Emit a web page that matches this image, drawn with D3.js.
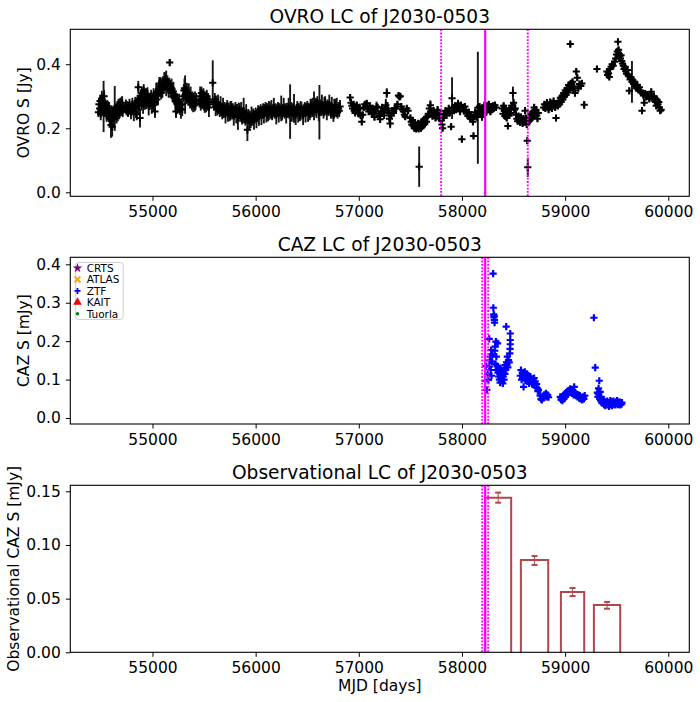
<!DOCTYPE html>
<html>
<head>
<meta charset="utf-8">
<script src="https://cdn.jsdelivr.net/npm/d3@7"></script>
<style>
body { margin: 0; background: #fff; }
svg text { font-family: "DejaVu Sans", sans-serif; fill: #000; }
</style>
</head>
<body>
<div id="chart"></div>
<script>

// OVRO 15 GHz light curve: [MJD, S (Jy), error]
var ovroEarly = [
[54476,0.250,0.015],[54481,0.275,0.02],[54487,0.262,0.015],[54492,0.285,0.02],[54498,0.245,0.02],[54503,0.270,0.02],[54509,0.292,0.025],[54514,0.258,0.02],[54520,0.280,0.03],[54526,0.268,0.08],[54531,0.300,0.02],[54537,0.255,0.02],[54543,0.275,0.015],[54549,0.262,0.02],[54555,0.240,0.02],
[54561,0.268,0.02],[54568,0.255,0.03],[54574,0.245,0.02],[54580,0.262,0.02],[54586,0.235,0.03],[54592,0.228,0.02],[54598,0.210,0.04],[54603,0.222,0.05],[54609,0.205,0.03],[54615,0.238,0.02],[54621,0.250,0.02],[54628,0.230,0.03],[54634,0.262,0.07],[54640,0.245,0.02],[54646,0.258,0.02],[54652,0.240,0.025],[54658,0.265,0.02],[54664,0.252,0.03],[54670,0.272,0.02],[54676,0.248,0.02],[54682,0.262,0.03],[54688,0.275,0.02],[54694,0.258,0.02],[54700,0.268,0.03],[54706,0.280,0.02],[54712,0.255,0.02],
[54735,0.262,0.015],[54742,0.270,0.02],[54749,0.255,0.015],[54756,0.265,0.02],[54763,0.250,0.015],[54770,0.262,0.02],[54777,0.272,0.02],[54784,0.258,0.015],[54791,0.248,0.02],[54798,0.265,0.02],[54805,0.275,0.02],[54812,0.260,0.02],[54819,0.252,0.03],[54826,0.268,0.02],[54833,0.278,0.02],[54840,0.262,0.03],[54847,0.245,0.02],
[54855,0.285,0.02],[54862,0.328,0.02],[54868,0.270,0.03],[54874,0.292,0.02],[54879,0.232,0.03],[54885,0.300,0.02],[54891,0.285,0.03],[54897,0.310,0.02],[54903,0.295,0.02],[54909,0.275,0.03],[54915,0.318,0.02],[54921,0.300,0.02],[54927,0.288,0.03],[54933,0.305,0.02],[54939,0.280,0.02],[54945,0.295,0.03],[54951,0.308,0.02],[54957,0.285,0.02],[54963,0.270,0.03],[54969,0.290,0.02],[54975,0.278,0.02],
[54981,0.285,0.02],[54987,0.300,0.02],[54993,0.275,0.03],[54999,0.290,0.02],[55005,0.272,0.02],[55011,0.295,0.03],[55017,0.280,0.02],[55024,0.252,0.02],[55030,0.298,0.02],[55036,0.310,0.03],[55042,0.290,0.02],[55048,0.315,0.02],[55054,0.302,0.03],[55060,0.322,0.02],[55066,0.340,0.02],[55072,0.318,0.02],[55078,0.330,0.03],[55084,0.310,0.02],[55090,0.335,0.02],[55096,0.325,0.03],[55102,0.342,0.02],[55108,0.330,0.02],[55114,0.345,0.03],[55121,0.350,0.025],[55127,0.335,0.02],[55133,0.340,0.04],[55139,0.328,0.02],[55145,0.345,0.02],[55151,0.332,0.02],[55157,0.325,0.03],[55163,0.338,0.02],[55167,0.405,0.01],
[55173,0.330,0.02],[55179,0.318,0.02],[55185,0.325,0.03],[55191,0.310,0.02],[55197,0.300,0.02],[55203,0.315,0.03],[55209,0.295,0.02],[55215,0.305,0.02],[55221,0.285,0.03],[55228,0.252,0.02],[55234,0.290,0.02],[55240,0.275,0.03],[55246,0.285,0.02],[55252,0.268,0.02],[55258,0.278,0.03],[55264,0.262,0.02],[55270,0.272,0.02],[55276,0.260,0.03],[55282,0.275,0.02],[55288,0.258,0.02],
[55298,0.300,0.02],[55304,0.318,0.02],[55310,0.325,0.03],[55316,0.305,0.06],[55322,0.320,0.02],[55328,0.295,0.02],[55334,0.312,0.03],[55340,0.300,0.02],[55346,0.290,0.02],[55352,0.310,0.03],[55358,0.295,0.02],[55364,0.282,0.02],[55370,0.300,0.03],[55376,0.288,0.02],[55382,0.275,0.02],[55388,0.295,0.02],[55394,0.280,0.03],[55400,0.290,0.02],[55406,0.272,0.02],[55412,0.285,0.03],[55418,0.278,0.02],[55424,0.290,0.02],
[55455,0.285,0.02],[55462,0.300,0.03],[55468,0.275,0.02],[55475,0.310,0.02],[55481,0.290,0.03],[55488,0.280,0.02],[55494,0.305,0.02],[55500,0.285,0.03],[55507,0.268,0.02],[55513,0.295,0.02],[55520,0.280,0.03],[55526,0.300,0.02],[55533,0.275,0.02],[55540,0.290,0.02],[55547,0.265,0.03],[55553,0.282,0.02]
];

var ovroMid = [
[55584,0.342,0.07],
[55596,0.275,0.02],[55604,0.290,0.02],[55612,0.268,0.03],[55620,0.282,0.02],[55628,0.260,0.02],[55636,0.275,0.03],[55644,0.265,0.02],[55652,0.255,0.02],[55660,0.270,0.03],[55668,0.258,0.02],[55676,0.248,0.02],[55684,0.265,0.03],[55692,0.252,0.02],[55700,0.262,0.02],[55708,0.245,0.03],[55716,0.258,0.02],[55724,0.268,0.02],[55732,0.250,0.03],[55740,0.260,0.02],[55748,0.242,0.02],[55756,0.255,0.03],[55764,0.265,0.02],[55772,0.248,0.02],[55780,0.258,0.02],[55788,0.238,0.03],[55796,0.252,0.02],[55804,0.262,0.02],[55812,0.245,0.03],[55820,0.255,0.02],[55828,0.235,0.04],[55836,0.250,0.03],[55844,0.258,0.02],[55852,0.240,0.02],[55860,0.252,0.03],[55868,0.232,0.02],[55876,0.245,0.02],[55884,0.255,0.04],[55892,0.238,0.02],[55900,0.228,0.02],[55908,0.245,0.03],[55914,0.232,0.02],[55920,0.195,0.035],[55928,0.240,0.02],[55936,0.225,0.03],[55944,0.235,0.02],[55952,0.220,0.02],[55960,0.238,0.03],[55968,0.228,0.02],[55976,0.242,0.02],[55984,0.225,0.03],[55992,0.235,0.02],
[56000,0.245,0.02],[56008,0.230,0.03],[56016,0.240,0.02],[56024,0.252,0.02],[56032,0.238,0.03],[56040,0.248,0.02],[56048,0.255,0.02],[56056,0.240,0.03],[56064,0.250,0.02],[56072,0.258,0.02],[56080,0.245,0.03],[56088,0.255,0.02],[56096,0.262,0.02],[56104,0.248,0.03],[56112,0.258,0.02],[56120,0.242,0.02],[56128,0.255,0.03],[56136,0.262,0.02],[56144,0.250,0.02],[56152,0.258,0.03],[56160,0.245,0.02],[56168,0.255,0.02],[56176,0.265,0.03],[56184,0.250,0.02],[56192,0.258,0.02],[56200,0.242,0.03],[56208,0.255,0.02],[56216,0.262,0.02],[56224,0.248,0.03],[56232,0.258,0.02],[56240,0.250,0.02],[56248,0.262,0.04],[56256,0.245,0.02],[56264,0.255,0.02],[56272,0.265,0.03],[56280,0.250,0.02],[56288,0.258,0.02],[56296,0.245,0.03],[56304,0.260,0.02],[56312,0.252,0.02],[56320,0.265,0.03],[56328,0.248,0.02],[56334,0.252,0.085],[56342,0.262,0.02],[56350,0.250,0.03],
[56358,0.258,0.02],[56366,0.245,0.02],[56372,0.262,0.045],[56380,0.250,0.02],[56388,0.240,0.03],[56396,0.255,0.02],[56404,0.265,0.02],[56412,0.248,0.03],[56420,0.258,0.02],[56428,0.242,0.02],[56436,0.255,0.03],[56444,0.262,0.02],[56452,0.250,0.02],[56460,0.240,0.03],[56468,0.255,0.02],[56476,0.262,0.02],[56484,0.248,0.03],[56492,0.258,0.02],[56500,0.265,0.02],[56508,0.250,0.03],[56516,0.258,0.02],[56524,0.245,0.02],[56532,0.262,0.03],[56540,0.272,0.02],[56548,0.255,0.02],[56556,0.265,0.03],[56566,0.270,0.045],[56574,0.258,0.02],[56582,0.275,0.02],[56590,0.262,0.03],[56598,0.280,0.02],[56606,0.268,0.02],[56612,0.252,0.03],[56618,0.250,0.085],[56626,0.270,0.02],[56634,0.258,0.02],[56642,0.275,0.03],[56650,0.262,0.02],[56658,0.250,0.02],[56666,0.268,0.03],[56674,0.280,0.02],[56682,0.262,0.02],[56690,0.255,0.03],[56698,0.270,0.02],[56706,0.258,0.02],[56714,0.275,0.03],[56722,0.262,0.02],[56730,0.250,0.02],[56738,0.268,0.03],[56746,0.255,0.02],[56754,0.240,0.02],[56762,0.262,0.03],[56770,0.272,0.02],[56778,0.258,0.02],[56786,0.265,0.03],[56794,0.250,0.02],[56802,0.262,0.02],[56810,0.255,0.02],[56818,0.268,0.02]
];

var ovroLate = [
[56916,0.296,0.01],[56925,0.280,0.01],[56933,0.270,0.01],[56940,0.262,0.01],[56948,0.275,0.01],[56956,0.255,0.01],[56964,0.248,0.01],[56972,0.265,0.01],[56980,0.272,0.01],[56990,0.258,0.01],[56998,0.245,0.01],[57008,0.262,0.015],[57018,0.240,0.01],[57029,0.220,0.01],[57038,0.242,0.01],[57048,0.265,0.01],[57058,0.275,0.01],[57068,0.268,0.01],[57077,0.278,0.01],[57086,0.262,0.01],[57096,0.252,0.01],[57106,0.270,0.01],[57116,0.258,0.01],[57126,0.245,0.01],[57134,0.262,0.01],[57142,0.247,0.01],[57152,0.235,0.01],[57162,0.255,0.01],[57172,0.268,0.015],[57181,0.265,0.01],[57192,0.245,0.01],[57200,0.238,0.01],[57207,0.228,0.01],[57216,0.252,0.01],[57226,0.265,0.01],[57236,0.250,0.015],[57245,0.240,0.01],[57252,0.258,0.01],[57262,0.272,0.02],[57271,0.310,0.015],[57280,0.262,0.02],[57290,0.248,0.01],[57297,0.230,0.01],[57304,0.215,0.015],[57314,0.240,0.01],[57324,0.255,0.01],[57336,0.248,0.01],[57348,0.262,0.01],[57362,0.262,0.01],[57374,0.275,0.01],[57385,0.302,0.01],[57394,0.298,0.01],[57402,0.300,0.01],[57412,0.268,0.01],[57424,0.258,0.01],[57433,0.252,0.01],[57442,0.242,0.01],[57450,0.236,0.01],[57465,0.262,0.01],[57478,0.255,0.01],
[57500,0.232,0.01],[57508,0.220,0.01],[57514,0.212,0.01],[57520,0.225,0.01],[57526,0.208,0.01],[57532,0.215,0.01],[57538,0.200,0.01],[57544,0.218,0.01],[57550,0.205,0.01],[57556,0.198,0.01],[57562,0.210,0.01],[57568,0.202,0.01],[57574,0.215,0.01],[57580,0.198,0.01],[57585,0.080,0.063],[57590,0.205,0.01],[57596,0.212,0.01],[57602,0.200,0.01],[57608,0.218,0.01],[57614,0.205,0.01],[57620,0.222,0.01],[57626,0.210,0.01],[57632,0.228,0.01],[57640,0.215,0.01],[57648,0.232,0.01],[57656,0.220,0.01],[57664,0.235,0.01],
[57674,0.245,0.01],[57684,0.262,0.01],[57694,0.272,0.015],[57704,0.250,0.01],[57714,0.238,0.01],[57724,0.255,0.01],[57734,0.242,0.01],[57744,0.232,0.01],[57754,0.248,0.01],[57764,0.258,0.01],[57774,0.240,0.01],[57784,0.230,0.01],[57792,0.245,0.01],[57800,0.225,0.01],[57806,0.212,0.01],[57812,0.200,0.01],[57820,0.232,0.01],[57830,0.245,0.01],[57840,0.255,0.01],[57850,0.240,0.01],[57860,0.252,0.01],[57872,0.262,0.01],[57882,0.248,0.01],[57895,0.205,0.01],[57904,0.294,0.065],[57912,0.265,0.01],
[57922,0.255,0.01],[57932,0.270,0.01],[57942,0.258,0.01],[57952,0.268,0.01],[57962,0.278,0.01],[57972,0.262,0.01],[57982,0.252,0.01],[57990,0.272,0.01],[57999,0.166,0.01],[58008,0.265,0.01],[58018,0.255,0.01],[58028,0.268,0.01],[58038,0.258,0.01],[58048,0.245,0.01],[58058,0.238,0.01],[58068,0.250,0.01],[58078,0.232,0.01],[58088,0.242,0.01],[58098,0.228,0.01],[58106,0.220,0.01],[58112,0.176,0.01],[58120,0.238,0.01],[58128,0.250,0.01],[58136,0.242,0.01],[58144,0.235,0.01],[58154,0.264,0.175],[58162,0.255,0.01],[58170,0.268,0.01],[58178,0.245,0.01],[58186,0.258,0.01],[58194,0.235,0.01],[58202,0.262,0.01],[58210,0.250,0.01],[58218,0.272,0.01],
[58228,0.262,0.01],[58236,0.250,0.01],[58244,0.270,0.01],[58252,0.258,0.01],[58260,0.275,0.01],[58268,0.262,0.01],[58276,0.252,0.01],[58284,0.268,0.01],[58292,0.258,0.01],[58300,0.270,0.01],[58310,0.262,0.01],[58320,0.272,0.01],[58330,0.265,0.01]
];

var ovroRecent = [
[58392,0.262,0.01],[58398,0.245,0.01],[58404,0.270,0.01],[58410,0.255,0.01],[58416,0.238,0.01],[58422,0.262,0.01],[58428,0.250,0.01],[58434,0.232,0.01],[58440,0.248,0.01],[58445,0.207,0.01],[58452,0.255,0.01],[58458,0.240,0.01],[58466,0.262,0.01],[58474,0.248,0.01],[58482,0.270,0.01],[58494,0.310,0.02],[58500,0.280,0.01],[58508,0.258,0.01],[58516,0.262,0.015],[58524,0.242,0.01],[58532,0.230,0.01],[58540,0.222,0.01],[58548,0.238,0.01],[58556,0.225,0.01],[58564,0.218,0.01],[58572,0.235,0.01],[58580,0.228,0.01],[58588,0.215,0.01],[58596,0.230,0.01],[58604,0.220,0.01],[58612,0.255,0.01],[58620,0.232,0.01],[58628,0.212,0.01],[58633,0.161,0.01],[58638,0.078,0.03],[58645,0.220,0.01],[58652,0.235,0.01],[58660,0.225,0.01],[58668,0.245,0.01],[58676,0.232,0.01],[58684,0.250,0.01],[58692,0.238,0.01],[58700,0.265,0.01],[58708,0.245,0.01],[58716,0.258,0.01],[58724,0.240,0.01],[58732,0.230,0.01],[58740,0.248,0.01],
[58792,0.265,0.01],[58800,0.275,0.01],[58808,0.262,0.01],[58816,0.270,0.01],[58824,0.280,0.01],[58832,0.268,0.01],[58840,0.258,0.01],[58848,0.272,0.01],[58856,0.282,0.01],[58864,0.268,0.01],[58872,0.262,0.01],[58880,0.275,0.01],[58888,0.285,0.01],[58896,0.270,0.01],[58904,0.265,0.01],[58912,0.232,0.01],[58920,0.278,0.01],
[58930,0.270,0.01],[58938,0.285,0.01],[58946,0.275,0.01],[58954,0.295,0.01],[58962,0.282,0.01],[58970,0.300,0.01],[58978,0.290,0.01],[58986,0.310,0.01],[58994,0.298,0.01],[59002,0.318,0.01],[59010,0.305,0.01],[59018,0.325,0.01],[59026,0.312,0.01],[59034,0.335,0.01],[59042,0.322,0.01],[59050,0.463,0.01],[59056,0.340,0.01],[59064,0.328,0.01],[59072,0.345,0.01],[59080,0.318,0.01],[59088,0.330,0.01],[59096,0.310,0.01],[59108,0.377,0.01],[59118,0.358,0.01],[59128,0.325,0.01],[59140,0.338,0.01],[59152,0.332,0.01],[59162,0.340,0.01],[59185,0.273,0.012],
[59308,0.385,0.01],[59405,0.377,0.01],[59412,0.366,0.01],[59420,0.372,0.01],[59428,0.360,0.01],[59436,0.385,0.01],[59446,0.392,0.01],[59456,0.400,0.01],[59466,0.395,0.01],[59479,0.408,0.01],[59490,0.418,0.01],[59498,0.430,0.01],[59506,0.440,0.01],[59512,0.470,0.01],[59518,0.445,0.01],[59524,0.432,0.01],[59530,0.425,0.01],[59536,0.418,0.01],[59542,0.428,0.01],[59548,0.410,0.01],[59556,0.402,0.01],[59564,0.395,0.01],[59572,0.385,0.01],[59580,0.392,0.01],[59588,0.378,0.01],[59596,0.370,0.01],[59604,0.382,0.01],[59612,0.365,0.01],[59622,0.317,0.01],[59630,0.352,0.01],[59638,0.360,0.01],[59648,0.345,0.065],[59656,0.350,0.01],[59664,0.338,0.01],[59672,0.345,0.01],[59680,0.332,0.01],[59690,0.325,0.01],[59700,0.335,0.01],[59710,0.320,0.01],[59720,0.328,0.01],[59730,0.315,0.01],[59745,0.255,0.01],[59752,0.310,0.01],[59760,0.302,0.01],[59767,0.280,0.01],[59776,0.308,0.01],[59786,0.298,0.01],[59796,0.305,0.01],[59806,0.300,0.01],[59816,0.292,0.01],[59826,0.305,0.01],[59835,0.314,0.01],[59844,0.298,0.01],[59852,0.290,0.01],[59862,0.300,0.01],[59870,0.285,0.01],[59878,0.292,0.01],[59884,0.270,0.01],[59892,0.288,0.01],[59900,0.275,0.01],[59908,0.282,0.01],[59914,0.265,0.01],[59922,0.255,0.01],[59931,0.258,0.01]
];

// ZTF points of the CAZ light curve: [MJD, S (mJy)]
var ztf = [
[58225,0.097],[58233,0.135],[58241,0.073],[58249,0.115],[58257,0.099],[58264,0.134],[58264,0.206],[58270,0.150],[58273,0.160],[58279,0.125],[58283,0.177],[58286,0.110],[58290,0.147],[58295,0.165],[58302,0.376],[58304,0.287],[58308,0.270],[58310,0.262],[58312,0.266],[58314,0.255],[58316,0.248],[58318,0.175],[58322,0.186],[58326,0.140],[58329,0.199],[58333,0.160],[58337,0.125],[58341,0.135],[58345,0.194],[58349,0.118],[58352,0.128],[58356,0.108],[58360,0.122],[58363,0.100],[58367,0.115],[58370,0.092],[58374,0.130],[58377,0.105],[58381,0.118],[58385,0.098],[58388,0.112],[58392,0.125],[58396,0.090],[58400,0.108],[58404,0.120],[58408,0.100],[58412,0.130],[58416,0.115],[58420,0.138],[58424,0.125],[58429,0.238],[58432,0.145],[58435,0.138],[58440,0.160],[58445,0.132],[58451,0.151],[58458,0.145],[58464,0.168],[58468,0.220],[58468,0.203],[58468,0.192],[58466,0.180],
[58565,0.110],[58572,0.125],[58578,0.100],[58584,0.118],[58590,0.105],[58597,0.081],[58603,0.112],[58609,0.120],[58615,0.098],[58621,0.108],[58627,0.115],[58633,0.095],[58639,0.104],[58645,0.110],[58651,0.090],[58657,0.100],[58663,0.108],[58669,0.095],[58675,0.102],[58681,0.088],[58687,0.098],[58693,0.092],[58699,0.104],[58705,0.085],[58711,0.095],[58717,0.080],[58723,0.088],[58730,0.078],[58736,0.070],[58742,0.073],[58758,0.058],[58766,0.050],[58774,0.047],[58782,0.055],[58790,0.052],[58798,0.060],[58806,0.058],[58814,0.064],[58822,0.055],[58830,0.060],[58839,0.054],
[58953,0.055],[58960,0.048],[58967,0.052],[58974,0.045],[58981,0.058],[58988,0.050],[58995,0.062],[59002,0.055],[59009,0.066],[59016,0.060],[59023,0.070],[59030,0.064],[59037,0.072],[59044,0.068],[59050,0.076],[59058,0.070],[59066,0.064],[59074,0.072],[59082,0.060],[59088,0.081],[59096,0.066],[59104,0.058],[59112,0.062],[59120,0.055],[59128,0.060],[59136,0.052],[59142,0.058],[59150,0.050],[59158,0.054],[59166,0.047],[59174,0.055],[59182,0.050],[59190,0.058],
[59279,0.261],[59292,0.131],[59324,0.077],[59331,0.097],[59312,0.066],[59318,0.055],[59322,0.062],[59336,0.050],[59340,0.068],[59345,0.045],[59350,0.055],[59355,0.040],[59360,0.048],[59366,0.038],[59372,0.045],[59378,0.035],[59384,0.042],[59390,0.032],[59396,0.040],[59402,0.036],[59408,0.044],[59414,0.034],[59420,0.040],[59426,0.030],[59432,0.038],[59438,0.045],[59444,0.035],[59450,0.042],[59456,0.032],[59462,0.038],[59468,0.044],[59474,0.036],[59480,0.040],[59486,0.034],[59492,0.042],[59498,0.038],[59504,0.045],[59510,0.035],[59516,0.040],[59522,0.036],[59528,0.042],[59534,0.034],[59540,0.038],[59546,0.036],[59551,0.040]
];

// observational (binned) CAZ light curve
var binStart = [58225, 58571, 58959, 59279];
var binEnd   = [58477, 58836, 59185, 59534];
var binFlux  = [0.1441, 0.0860, 0.0562, 0.0441];
var binLow   = [0.1394, 0.0814, 0.0524, 0.0406];
var binHigh  = [0.1488, 0.0897, 0.0599, 0.0469];

// flare epoch and the windows drawn around it
var flareMjd = 58225;
var ovroWindow = [57798, 58638];
var cazWindow = [58196, 58254];

var legendNames  = ["CRTS", "ATLAS", "ZTF", "KAIT", "Tuorla"];
var legendColors = ["purple", "orange", "blue", "red", "green"];

var xTicks = [55000, 56000, 57000, 58000, 59000, 60000];
var ovroTicks = [0.0, 0.2, 0.4];
var cazTicks = [0.0, 0.1, 0.2, 0.3, 0.4];
var obsTicks = [0.00, 0.05, 0.10, 0.15];

var ovro = ovroEarly.concat(ovroMid, ovroLate, ovroRecent);

var width = 700, height = 702;
var left = 70.3, right = 689.3;
var fontSize = 15.5;
var magenta = "#ff00ff";
var barColor = "#b0474a";

var svg = d3.select("#chart").append("svg")
    .attr("width", width)
    .attr("height", height);

// x range as matplotlib would pad it (5% each side)
var ext = d3.extent(ovro, function(d) { return d[0]; });
var pad = (ext[1] - ext[0]) * 0.05;
var x = d3.scaleLinear().domain([ext[0] - pad, ext[1] + pad]).range([left, right]);

function plusPath(r) {
    return "M" + (-r) + ",0H" + r + "M0," + (-r) + "V" + r;
}
function timesPath(r) {
    return "M" + (-r) + "," + (-r) + "L" + r + "," + r + "M" + (-r) + "," + r + "L" + r + "," + (-r);
}

function makePanel(top, bottom, yDomain, yTicks, yFormat, title, ylabel, ylabelX) {
    var y = d3.scaleLinear().domain(yDomain).range([bottom, top]);
    var g = svg.append("g");

    g.append("g")
        .attr("transform", "translate(0," + bottom + ")")
        .call(d3.axisBottom(x).tickValues(xTicks).tickFormat(d3.format("d")).tickSize(4.5).tickPadding(5))
        .call(function(a) {
            a.select(".domain").remove();
            a.selectAll("line").attr("stroke", "#000").attr("stroke-width", 1);
            a.selectAll("text").style("font-size", fontSize + "px").attr("font-family", "DejaVu Sans");
        });

    g.append("g")
        .attr("transform", "translate(" + left + ",0)")
        .call(d3.axisLeft(y).tickValues(yTicks).tickFormat(d3.format(yFormat)).tickSize(4.5).tickPadding(5))
        .call(function(a) {
            a.select(".domain").remove();
            a.selectAll("line").attr("stroke", "#000").attr("stroke-width", 1);
            a.selectAll("text").style("font-size", fontSize + "px").attr("font-family", "DejaVu Sans");
        });

    g.append("text")
        .attr("x", (left + right) / 2)
        .attr("y", top - 6.5)
        .attr("text-anchor", "middle")
        .style("font-size", "18.6px")
        .text(title);

    g.append("text")
        .attr("transform", "translate(" + ylabelX + "," + ((top + bottom) / 2) + ") rotate(-90)")
        .attr("text-anchor", "middle")
        .style("font-size", fontSize + "px")
        .text(ylabel);

    var plot = g.append("g");
    g.append("rect")
        .attr("x", left).attr("y", top)
        .attr("width", right - left).attr("height", bottom - top)
        .attr("fill", "none").attr("stroke", "#000").attr("stroke-width", 1.1);

    return { y: y, plot: plot, top: top, bottom: bottom };
}

function drawWindow(p, lines) {
    p.plot.selectAll("line.win")
        .data(lines)
        .enter().append("line")
        .attr("class", "win")
        .attr("x1", function(d) { return x(d); })
        .attr("x2", function(d) { return x(d); })
        .attr("y1", p.top).attr("y2", p.bottom)
        .attr("stroke", magenta)
        .attr("stroke-width", 1.9)
        .attr("stroke-dasharray", "1.8,1.5");
    p.plot.append("line")
        .attr("x1", x(flareMjd)).attr("x2", x(flareMjd))
        .attr("y1", p.top).attr("y2", p.bottom)
        .attr("stroke", magenta)
        .attr("stroke-width", 2.2);
}

// ---- OVRO panel
var p1 = makePanel(29.3, 196.3, [-0.0125, 0.509], ovroTicks, ".1f",
    "OVRO LC of J2030-0503", "OVRO S [Jy]", 29);

p1.plot.selectAll("line.err")
    .data(ovro)
    .enter().append("line")
    .attr("class", "err")
    .attr("x1", function(d) { return x(d[0]); })
    .attr("x2", function(d) { return x(d[0]); })
    .attr("y1", function(d) { return p1.y(d[1] - d[2]); })
    .attr("y2", function(d) { return p1.y(d[1] + d[2]); })
    .attr("stroke", "#161616")
    .attr("stroke-width", 1.9);

p1.plot.selectAll("path.pt")
    .data(ovro)
    .enter().append("path")
    .attr("class", "pt")
    .attr("d", plusPath(3.6))
    .attr("transform", function(d) { return "translate(" + x(d[0]) + "," + p1.y(d[1]) + ")"; })
    .attr("stroke", "#000")
    .attr("stroke-width", 2)
    .attr("fill", "none");

drawWindow(p1, ovroWindow);

// ---- CAZ panel
var p2 = makePanel(257.3, 424, [-0.0156, 0.4183], cazTicks, ".1f",
    "CAZ LC of J2030-0503", "CAZ S [mJy]", 29);

p2.plot.selectAll("path.pt")
    .data(ztf)
    .enter().append("path")
    .attr("class", "pt")
    .attr("d", plusPath(3.6))
    .attr("transform", function(d) { return "translate(" + x(d[0]) + "," + p2.y(d[1]) + ")"; })
    .attr("stroke", "blue")
    .attr("stroke-width", 2.2)
    .attr("fill", "none");

drawWindow(p2, cazWindow);

// legend
var lg = svg.append("g").attr("transform", "translate(75.7,262.5)");
lg.append("rect")
    .attr("width", 47.5).attr("height", 57)
    .attr("rx", 2.5)
    .attr("fill", "#fff").attr("fill-opacity", 0.8)
    .attr("stroke", "#d0d0d0").attr("stroke-width", 1);

var items = lg.selectAll("g.item")
    .data(legendNames)
    .enter().append("g")
    .attr("class", "item")
    .attr("transform", function(d, i) { return "translate(0," + (5.6 + i * 11.4) + ")"; });

items.append("path")
    .attr("transform", "translate(1.8,0)")
    .attr("d", function(d, i) {
        if (i == 0) return d3.symbol(d3.symbolStar, 28)();
        if (i == 1) return timesPath(3);
        if (i == 2) return plusPath(3);
        if (i == 3) return d3.symbol(d3.symbolTriangle, 32)();
        return d3.symbol(d3.symbolCircle, 9)();
    })
    .attr("fill", function(d, i) { return (i == 1 || i == 2) ? "none" : legendColors[i]; })
    .attr("stroke", function(d, i) { return (i == 1 || i == 2) ? legendColors[i] : "none"; })
    .attr("stroke-width", 1.8);

items.append("text")
    .attr("x", 11)
    .attr("y", 3.8)
    .style("font-size", "10.5px")
    .text(function(d) { return d; });

// ---- observational panel
var p3 = makePanel(485.3, 652.3, [0, 0.1556], obsTicks, ".2f",
    "Observational LC of J2030-0503", "Observational CAZ S [mJy]", 18.5);

p3.plot.selectAll("path.bar")
    .data(binFlux)
    .enter().append("path")
    .attr("class", "bar")
    .attr("d", function(d, i) {
        return "M" + x(binStart[i]) + "," + p3.y(0) +
               "V" + p3.y(d) + "H" + x(binEnd[i]) + "V" + p3.y(0);
    })
    .attr("fill", "none")
    .attr("stroke", barColor)
    .attr("stroke-width", 2);

var eb = p3.plot.selectAll("g.eb")
    .data(binFlux)
    .enter().append("g")
    .attr("class", "eb")
    .attr("transform", function(d, i) { return "translate(" + x((binStart[i] + binEnd[i]) / 2) + ",0)"; });

eb.append("line")
    .attr("y1", function(d, i) { return p3.y(binLow[i]); })
    .attr("y2", function(d, i) { return p3.y(binHigh[i]); })
    .attr("stroke", barColor).attr("stroke-width", 1);
eb.append("line")
    .attr("x1", -3).attr("x2", 3)
    .attr("y1", function(d, i) { return p3.y(binLow[i]); })
    .attr("y2", function(d, i) { return p3.y(binLow[i]); })
    .attr("stroke", barColor).attr("stroke-width", 2);
eb.append("line")
    .attr("x1", -3).attr("x2", 3)
    .attr("y1", function(d, i) { return p3.y(binHigh[i]); })
    .attr("y2", function(d, i) { return p3.y(binHigh[i]); })
    .attr("stroke", barColor).attr("stroke-width", 2);

drawWindow(p3, cazWindow);

svg.append("text")
    .attr("x", (left + right) / 2)
    .attr("y", 691)
    .attr("text-anchor", "middle")
    .style("font-size", fontSize + "px")
    .text("MJD [days]");

</script>
</body>
</html>
